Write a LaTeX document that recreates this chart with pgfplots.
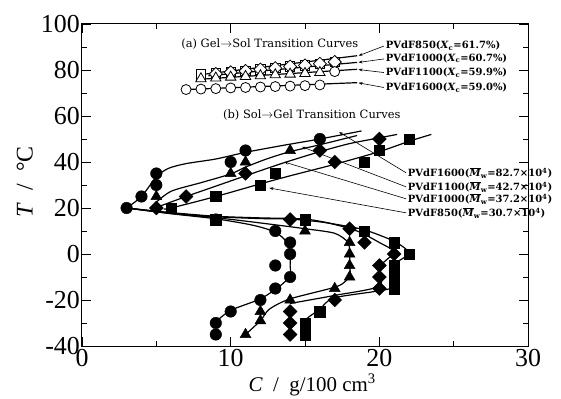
\documentclass[border=0pt]{standalone}
\usepackage{fontspec}
\setmainfont{Liberation Serif}
\newfontfamily\annot{DejaVu Serif}
\usepackage{pgfplots}
\pgfplotsset{compat=1.18}
\usetikzlibrary{arrows.meta}

\pgfplotsset{
  fcirc/.style={only marks, mark=*, mark size=5.8bp, mark options={fill=black, draw=black, solid}},
  ftri/.style={only marks, mark=triangle*, mark size=6.3bp, mark options={fill=black, draw=black, solid}},
  fdia/.style={only marks, mark=square*, mark size=4.9bp, mark options={fill=black, draw=black, solid, rotate=45}},
  fsq/.style={only marks, mark=square*, mark size=5.2bp, mark options={fill=black, draw=black, solid}},
  ocirc/.style={only marks, mark=*, mark size=5bp, mark options={fill=white, draw=black, line width=0.8bp}},
  otri/.style={only marks, mark=triangle*, mark size=6bp, mark options={fill=white, draw=black, line width=0.8bp}},
  odia/.style={only marks, mark=square*, mark size=4.6bp, mark options={fill=white, draw=black, line width=0.8bp, rotate=45}},
  osq/.style={only marks, mark=square*, mark size=4.7bp, mark options={fill=white, draw=black, line width=0.8bp}},
  crv/.style={no marks, black, line width=1.2bp, smooth, tension=0.45},
  lin/.style={no marks, black, line width=1.2bp},
}

\begin{document}
\begin{tikzpicture}
\path[use as bounding box] (-82bp,-53bp) rectangle (479bp,346bp);
\begin{axis}[
  at={(0bp,0bp)}, anchor=south west,
  scale only axis, width=446bp, height=322bp,
  xmin=0, xmax=30, ymin=-40, ymax=100,
  xtick={0,10,20,30}, ytick={-40,-20,0,20,40,60,80,100},
  minor x tick num=1, minor y tick num=1,
  tick align=inside,
  major tick length=9bp, minor tick length=5bp,
  axis line style={line width=1bp},
  every tick/.append style={line width=0.8bp, black},
  /pgf/number format/assume math mode=true,
  tick label style={font=\fontsize{26}{26}\selectfont, inner sep=2bp},
  xticklabel style={yshift=-1bp},
  xlabel={\textit{C}~~/~~g/100 cm\textsuperscript{3}},
  ylabel={\textit{T}~~/~~°C},
  xlabel style={font=\fontsize{21}{21}\selectfont, at={(axis description cs:0.516,-0.121)}, anchor=center},
  ylabel style={font=\fontsize{24}{24}\selectfont, at={(axis description cs:-0.128,0.51)}, anchor=center},
  clip=false,
]

% ---------- Gel -> Sol (open markers) ----------
\addplot[lin] coordinates {(7,71.5) (18.5,74.5)};
\addplot[lin] coordinates {(8,76) (18.5,80.3)};
\addplot[lin] coordinates {(8.5,77.5) (18.5,83.3)};
\addplot[lin] coordinates {(8,78) (18.5,86.2)};

\addplot[osq] coordinates {(8,78) (9,78.6) (10,79.2) (11,79.7) (12,80.3) (13,80.9) (14,81.5) (15,82) (16,82.6) (17,83.4)};
\addplot[odia] coordinates {(9,78.3) (10,79) (11,79.6) (12,80.2) (13,80.8) (14,81.5) (15,82) (16,82.7) (17,83.5)};
\addplot[otri] coordinates {(8,76.2) (9,76.5) (10,76.9) (11,77.2) (12,77.5) (13,77.9) (14,78.2) (15,78.5) (16,78.9)};
\addplot[ocirc] coordinates {(17,79.3)};
\addplot[ocirc] coordinates {(7,71.5) (8,71.7) (9,71.9) (10,72.2) (11,72.4) (12,72.6) (13,72.8) (14,73) (15,73.2) (16,73.5)};

% ---------- Sol -> Gel curves ----------
% PVdF1600
\addplot[crv] coordinates {(3,20) (4,25) (5,33.5) (5.8,37.2) (7,39.3) (9,41.3) (11,44.2) (13.5,47.2) (16,50) (18.8,53.5)};
\addplot[crv] coordinates {(3,20) (6,17.5) (9,15.3) (11.5,12.5) (13,9.5) (13.8,5) (14,0) (14,-5) (14,-9.5) (13.3,-14) (12,-19.5) (10,-24.5) (9,-29.5)};
% PVdF1100
\addplot[crv] coordinates {(4.9,22) (6,27.3) (8,31) (10,34.8) (11,37.8) (12.5,41.5) (14,44.5) (16,47.5) (18.5,51.5)};
\addplot[crv] coordinates {(3,20) (6,17.6) (9,15.8) (12,13.5) (15,11) (17,9) (17.9,5) (18,0) (18,-5) (18,-9.5) (17.2,-14) (14,-19.5) (12.6,-24) (12,-29) (11,-35)};
% PVdF1000
\addplot[crv] coordinates {(4.9,20) (7,25) (9,29.5) (11,34) (13.5,39.5) (16,44.5) (18,48) (20,50.5) (21.2,52)};
\addplot[crv] coordinates {(3,20) (6,17.8) (9,16.2) (12,15.4) (14,15.2) (16.5,13.5) (18.5,10) (20,5) (21,1) (20.4,-3) (20,-6) (20,-14) (17,-18) (14,-21.5)};
% PVdF850
\addplot[crv] coordinates {(5.5,19.6) (6,20) (9,25) (12,30.5) (14,34) (17,39) (20,44.5) (22,49) (23.5,52)};
\addplot[crv] coordinates {(3,20) (6,18) (9,16.4) (12,15.7) (15,15.2) (17,13) (19,10.5) (21,5.5) (22,0.5) (21.2,-3.5) (21,-6) (21,-14.5) (17,-19) (16,-24) (15,-29) (15,-35)};

% ---------- Sol -> Gel markers ----------
\addplot[fsq] coordinates {(6,20) (9,25) (12,30) (13,35) (19,40) (20,45) (22,50) (9,15) (15,15) (19,10) (21,5) (22,0) (21,-5) (21,-10) (21,-15) (16,-25) (15,-30) (15,-35)};
\addplot[fdia] coordinates {(5,20) (7,25) (11,35) (16,45) (17,40) (20,50) (14,15) (18,11) (19,5) (21,0) (20,-5) (20,-10) (20,-15) (17,-20) (14,-25) (14,-30) (14,-35)};
\addplot[ftri] coordinates {(5,25) (10,35) (11,40) (14,45) (15,10) (18,5) (18,0) (18,-5) (18,-10) (17,-15) (14,-20) (12,-25) (12,-29) (11,-35)};
\addplot[fcirc] coordinates {(3,20) (4,25) (5,30) (5,35) (10,40) (11,45) (16,50) (9,15) (13,10) (14,5) (14,0) (13,-5) (14,-10) (13,-15) (12,-20) (10,-25) (9,-30) (9,-35)};

% ---------- Annotations ----------
\node[font=\annot\fontsize{11.5}{11.5}\selectfont, anchor=center] at (axis cs:12.63,91.5) {(a) Gel$\rightarrow$Sol Transition Curves};
\node[font=\annot\fontsize{11.5}{11.5}\selectfont, anchor=center] at (axis cs:15.46,60.6) {(b) Sol$\rightarrow$Gel Transition Curves};

\begin{scope}[font=\annot\bfseries\fontsize{10}{10}\selectfont]
\node[anchor=west, inner sep=1bp] at (axis cs:20.36,90.6) {PVdF850(\textit{X}\textsubscript{c}=61.7\%)};
\node[anchor=west, inner sep=1bp] at (axis cs:20.36,85.0) {PVdF1000(\textit{X}\textsubscript{c}=60.7\%)};
\node[anchor=west, inner sep=1bp] at (axis cs:20.36,78.9) {PVdF1100(\textit{X}\textsubscript{c}=59.9\%)};
\node[anchor=west, inner sep=1bp] at (axis cs:20.36,72.3) {PVdF1600(\textit{X}\textsubscript{c}=59.0\%)};

\node[anchor=west, inner sep=1bp] at (axis cs:21.84,35.3) {PVdF1600($\overline{\hbox{\textit{M}}}$\textsubscript{w}=82.7×10\textsuperscript{4})};
\node[anchor=west, inner sep=1bp] at (axis cs:21.84,29.2) {PVdF1100($\overline{\hbox{\textit{M}}}$\textsubscript{w}=42.7×10\textsuperscript{4})};
\node[anchor=west, inner sep=1bp] at (axis cs:21.84,24.0) {PVdF1000($\overline{\hbox{\textit{M}}}$\textsubscript{w}=37.2×10\textsuperscript{4})};
\node[anchor=west, inner sep=1bp] at (axis cs:21.84,17.9) {PVdF850($\overline{\hbox{\textit{M}}}$\textsubscript{w}=30.7×10\textsuperscript{4})};
\end{scope}

\begin{scope}[-{Stealth[length=4bp,width=3bp]}, line width=0.6bp]
\draw (axis cs:20.3,90.4) -- (axis cs:18.6,86.2);
\draw (axis cs:20.3,84.8) -- (axis cs:18.6,83.3);
\draw (axis cs:20.3,78.9) -- (axis cs:18.6,80.2);
\draw (axis cs:20.3,72.4) -- (axis cs:18.6,74.4);

\draw (axis cs:21.8,35.3) -- (axis cs:17.3,53.0);
\draw (axis cs:21.8,29.2) -- (axis cs:14.8,46.6);
\draw (axis cs:21.8,24.0) -- (axis cs:13.6,40.0);
\draw (axis cs:21.8,17.9) -- (axis cs:12.6,28.7);
\end{scope}
\end{axis}
\end{tikzpicture}
\end{document}
